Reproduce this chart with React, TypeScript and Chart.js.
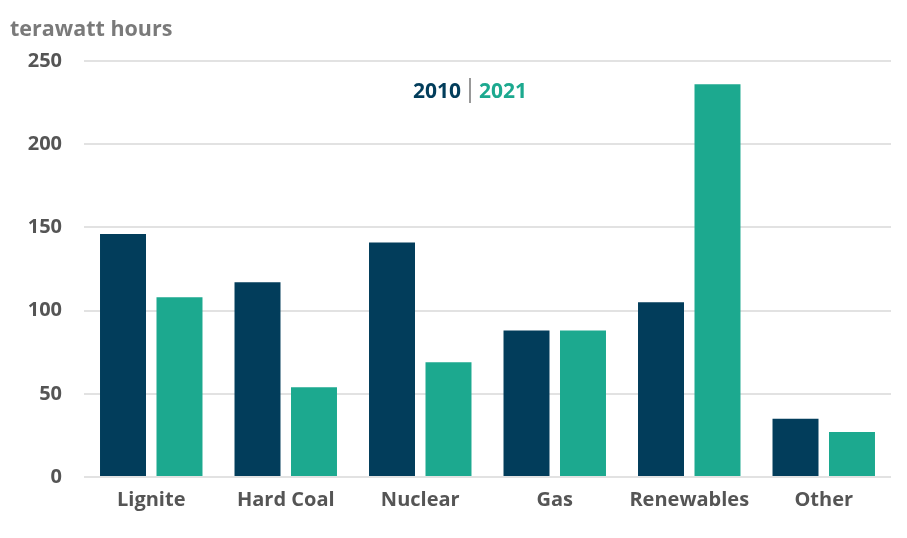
import React, { useEffect, useRef } from "react";
import { Chart, registerables } from "chart.js";

Chart.register(...registerables);

const categories = ["Lignite", "Hard Coal", "Nuclear", "Gas", "Renewables", "Other"];
const values2010 = [146, 117, 141, 88, 105, 35];
const values2021 = [108, 54, 69, 88, 236, 27];
const yTicks = [0, 50, 100, 150, 200, 250];

const C2010 = "#023d5b";
const C2021 = "#1ca98f";
const FONT = "'Open Sans'";

export default function App() {
  const ref = useRef<HTMLCanvasElement | null>(null);
  useEffect(() => {
    if (!ref.current) return;
    const chart = new Chart(ref.current, {
      type: "bar",
      data: {
        labels: categories,
        datasets: [
          { label: "2010", data: values2010, backgroundColor: C2010, categoryPercentage: 0.84, barPercentage: 0.814 },
          { label: "2021", data: values2021, backgroundColor: C2021, categoryPercentage: 0.84, barPercentage: 0.814 },
        ],
      },
      options: {
        responsive: false,
        animation: false,
        layout: { padding: { top: 61, right: 16, bottom: 0, left: 0 } },
        plugins: { legend: { display: false }, tooltip: { enabled: false } },
        scales: {
          x: {
            grid: { display: false, drawTicks: false },
            border: { display: false },
            ticks: { color: "#555", font: { family: FONT, weight: "bold", size: 20 }, padding: 11 },
            afterFit: (s: any) => { s.height = 61; },
          },
          y: {
            min: 0,
            max: 250,
            afterBuildTicks: (s: any) => { s.ticks = yTicks.map((v) => ({ value: v })); },
            grid: { color: "#e2e2e2", lineWidth: 2, drawTicks: false },
            border: { display: false },
            ticks: { color: "#555", font: { family: FONT, weight: "bold", size: 20 }, padding: 22 },
            afterFit: (s: any) => { s.width = 84; },
          },
        },
      },
    });
    return () => chart.destroy();
  }, []);
  return (
    <div style={{ position: "fixed", left: 0, top: 0, width: 907, height: 538, background: "#fff", fontFamily: FONT, fontWeight: "bold" }}>
      <canvas ref={ref} width={907} height={538} style={{ position: "absolute", left: 0, top: 0 }} />
      <div style={{ position: "absolute", left: 10, top: 13, fontSize: 21.5, color: "#7a7a7a" }}>terawatt hours</div>
      <div style={{ position: "absolute", left: 413, top: 76, fontSize: 21, whiteSpace: "nowrap" }}>
        <span style={{ color: C2010 }}>2010</span>
        <span style={{ display: "inline-block", width: 2, height: 25, background: "#999", margin: "0 8px", verticalAlign: "-5px" }} />
        <span style={{ color: C2021 }}>2021</span>
      </div>
    </div>
  );
}
